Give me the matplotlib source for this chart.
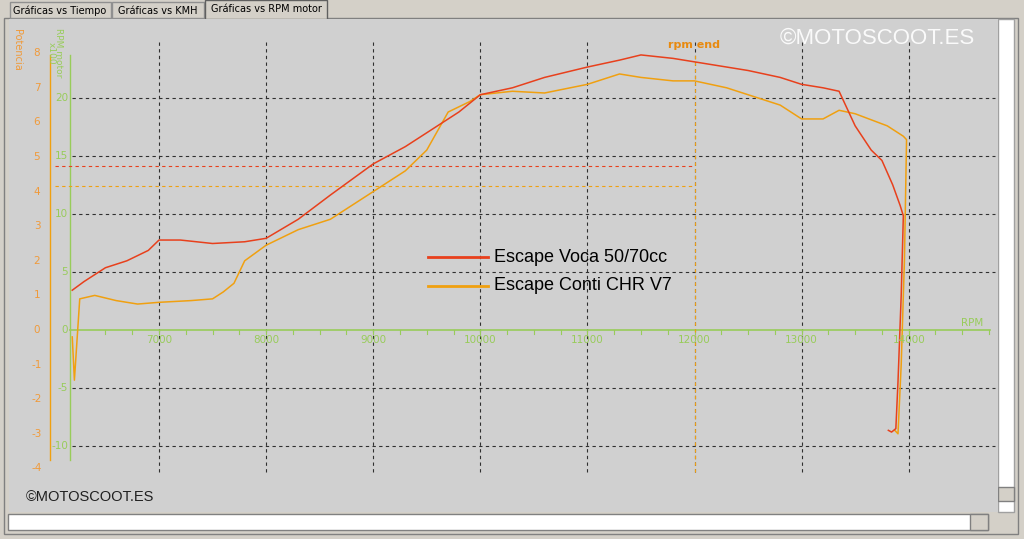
import matplotlib.pyplot as plt
from matplotlib.patches import Rectangle
import numpy as np

# curve data (rpm, potencia)
voca_rpm = [6190, 6300, 6500, 6700, 6900, 7000, 7200, 7500, 7800, 8000, 8300, 8600, 9000, 9300,
            9600, 9800, 10000, 10300, 10600, 11000, 11300, 11500, 11800, 12000, 12300, 12500,
            12800, 13000, 13200, 13350, 13500, 13650, 13750, 13850, 13920, 13950, 13930, 13900,
            13880, 13840, 13810]
voca_pot = [1.15, 1.4, 1.8, 2.0, 2.3, 2.6, 2.6, 2.5, 2.55, 2.65, 3.2, 3.9, 4.8, 5.3,
            5.9, 6.3, 6.8, 7.0, 7.3, 7.6, 7.8, 7.95, 7.85, 7.75, 7.6, 7.5,
            7.3, 7.1, 7.0, 6.9, 5.9, 5.2, 4.9, 4.2, 3.6, 3.3, 1.0, -1.5,
            -2.85, -2.95, -2.9]
conti_rpm = [6190, 6210, 6260, 6400, 6600, 6800, 7000, 7300, 7500, 7600, 7700, 7800, 8000, 8300,
             8600, 9000, 9300, 9500, 9700, 9900, 10000, 10300, 10600, 11000, 11300, 11500,
             11800, 12000, 12300, 12500, 12800, 13000, 13200, 13350, 13500, 13800, 13950,
             13980, 13960, 13930, 13900, 13870]
conti_pot = [-0.2, -1.45, 0.9, 1.0, 0.85, 0.75, 0.8, 0.85, 0.9, 1.1, 1.35, 2.0, 2.45, 2.9,
             3.2, 4.0, 4.6, 5.2, 6.3, 6.6, 6.8, 6.9, 6.85, 7.1, 7.4, 7.3,
             7.2, 7.2, 7.0, 6.8, 6.5, 6.1, 6.1, 6.35, 6.25, 5.9, 5.6,
             5.5, 2.0, -1.0, -3.0, -2.9]
pot_ticks = [8, 7, 6, 5, 4, 3, 2, 1, 0, -1, -2, -3, -4]
rpm_ticks = [20, 15, 10, 5, 0, -5, -10]
x_ticks = [7000, 8000, 9000, 10000, 11000, 12000, 13000, 14000]

red = '#e8401c'
orange = '#f0a010'
lab_or = '#f09a3a'
green = '#98cc5a'
scale = 11.6 / 34.6  # rpm x100 units -> potencia units

fig = plt.figure(figsize=(10.24, 5.39), dpi=100)
fig.patch.set_facecolor('#d4d0c8')
W, H = 1024, 539

def frect(x, y, w, h, **kw):
    fig.patches.append(Rectangle((x / W, 1 - (y + h) / H), w / W, h / H,
                                 transform=fig.transFigure, zorder=-5, **kw))

# window chrome
frect(4, 18, 1014, 516, facecolor='#d4d0c8', edgecolor='#808080', lw=1)
frect(998, 19, 16, 493, facecolor='white', edgecolor='#a0a0a0', lw=1)
frect(998, 487, 16, 14, facecolor='#d4d0c8', edgecolor='#808080', lw=1)
frect(8, 514, 980, 16, facecolor='white', edgecolor='#808080', lw=1)
frect(970, 514, 18, 16, facecolor='#d4d0c8', edgecolor='#808080', lw=1)
frect(10, 2, 101, 16, facecolor='#d4d0c8', edgecolor='#909090', lw=1)
frect(112, 2, 92, 16, facecolor='#d4d0c8', edgecolor='#909090', lw=1)
frect(205, 0, 122, 19, facecolor='#d4d0c8', edgecolor='#606060', lw=1)
fig.text(60 / W, 1 - 11 / H, 'Gráficas vs Tiempo', fontsize=7, ha='center', va='center')
fig.text(158 / W, 1 - 11 / H, 'Gráficas vs KMH', fontsize=7, ha='center', va='center')
fig.text(266 / W, 1 - 9 / H, 'Gráficas vs RPM motor', fontsize=7, ha='center', va='center')

def px2rpm(px):
    return 7000 + (px - 159) / 107.1 * 1000

def py2pot(py):
    return (330 - py) / 34.6

ax = fig.add_axes([9 / W, 1 - 512 / H, 989 / W, 493 / H])
ax.set_facecolor('#d0d0d0')
ax.set_xlim(px2rpm(9), px2rpm(998))
ax.set_ylim(py2pot(512), py2pot(19))
for s in ax.spines.values():
    s.set_visible(False)
ax.set_xticks([])
ax.set_yticks([])

top, bot = py2pot(40), py2pot(472)
left, right = px2rpm(72), px2rpm(995)
for xt in x_ticks:
    ax.plot([xt, xt], [bot, top], color='#303030', ls=(0, (3, 3)), lw=0.8)
    ax.text(xt, py2pot(340), str(xt), color=green, fontsize=7.5, ha='center', va='center')
for v in rpm_ticks:
    if v != 0:
        ax.plot([left, right], [v * scale, v * scale], color='#303030', ls=(0, (3, 3)), lw=0.8)
    ax.text(px2rpm(68), v * scale, str(v), color=green, fontsize=7.5, ha='right', va='center')
for p in pot_ticks:
    ax.text(px2rpm(37), p, str(p), color=lab_or, fontsize=7.5, ha='center', va='center')

# axes lines
ax.plot([px2rpm(50)] * 2, [py2pot(460), py2pot(55)], color=orange, lw=1)
ax.plot([px2rpm(70)] * 2, [py2pot(460), py2pot(55)], color=green, lw=1)
ax.plot([px2rpm(70), px2rpm(990)], [0, 0], color=green, lw=1.2)
for xt in np.arange(6500, 14800, 250):
    ax.plot([xt, xt], [0, py2pot(334)], color=green, lw=0.8)
ax.text(px2rpm(972), py2pot(323), 'RPM', color=green, fontsize=7.5, ha='center', va='center')
ax.text(px2rpm(17), py2pot(50), 'Potencia', color=lab_or, fontsize=7, rotation=270,
        ha='center', va='center')
ax.text(px2rpm(55), py2pot(53), 'RPM motor\nx100', color=green, fontsize=6.5, rotation=270,
        ha='center', va='center', linespacing=0.85)

# reference lines
ax.plot([px2rpm(55), 12000], [py2pot(166)] * 2, color=red, ls=(0, (3, 3)), lw=0.8)
ax.plot([px2rpm(55), 12000], [py2pot(186)] * 2, color=orange, ls=(0, (3, 3)), lw=0.8)
ax.plot([12000, 12000], [bot, py2pot(55)], color=orange, ls=(0, (3, 3)), lw=0.8)
ax.text(12000, py2pot(45), 'rpm end', color='#e88a10', fontsize=8, fontweight='bold', ha='center', va='center')

ax.plot(conti_rpm, conti_pot, color=orange, lw=1.1)
ax.plot(voca_rpm, voca_pot, color=red, lw=1.1)

# legend
ax.plot([px2rpm(428), px2rpm(488)], [py2pot(257)] * 2, color=red, lw=2)
ax.plot([px2rpm(428), px2rpm(488)], [py2pot(286)] * 2, color=orange, lw=2)
ax.text(px2rpm(494), py2pot(257), 'Escape Voca 50/70cc', fontsize=13, va='center', family='Liberation Sans')
ax.text(px2rpm(494), py2pot(286), 'Escape Conti CHR V7', fontsize=13, va='center', family='Liberation Sans')

ax.text(px2rpm(780), py2pot(38), '©MOTOSCOOT.ES', color='white', fontsize=16, va='center',
        family='Liberation Sans', alpha=0.9)
ax.text(px2rpm(26), py2pot(497), '©MOTOSCOOT.ES', color='#202020', fontsize=10.5, va='center',
        family='Liberation Sans')

fig.savefig('out.png', dpi=100)
